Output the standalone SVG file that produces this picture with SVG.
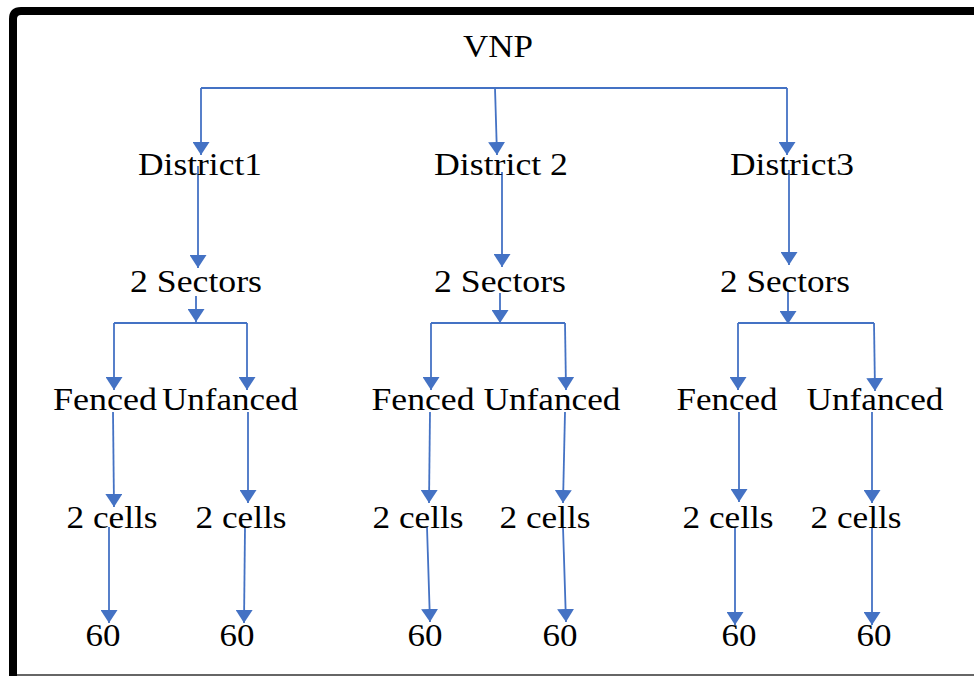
<svg xmlns="http://www.w3.org/2000/svg" width="974" height="676" viewBox="0 0 974 676">
<style>
text{font-family:"Liberation Serif","Times New Roman",serif;font-size:31px;fill:#000;text-anchor:middle}
.c{stroke:#4472C4;stroke-width:1.8;fill:none}
.a{marker-end:url(#ah)}
</style>
<defs>
<marker id="ah" viewBox="0 0 13 17" refX="13" refY="8.5" markerWidth="13" markerHeight="17" markerUnits="userSpaceOnUse" orient="auto">
<path d="M0,0 L13,8.5 L0,17 Z" fill="#4472C4"/>
</marker>
</defs>
<rect width="974" height="676" fill="#fff"/>
<g id="frame">
<path d="M13,676 V19 Q13,11 21,11 H980" fill="none" stroke="#000" stroke-width="8"/>
<line x1="17" y1="675" x2="974" y2="675" stroke="#666" stroke-width="2"/>
</g>
<g id="connectors">
<path class="c" d="M201,88 H787"/>
<path class="c a" d="M201,88 V155"/>
<path class="c a" d="M495,88 L497,155"/>
<path class="c a" d="M787,88 V155"/>
<path class="c a" d="M198,166 V268"/>
<path class="c a" d="M502,172 V267"/>
<path class="c a" d="M789,170 V265"/>
<path class="c a" d="M196,296 V322"/>
<path class="c a" d="M500,293 V323"/>
<path class="c a" d="M788,290 V324"/>
<path class="c" d="M114,323 H247"/>
<path class="c a" d="M114,323 V390"/>
<path class="c a" d="M247,323 V390"/>
<path class="c" d="M431,323 H565"/>
<path class="c a" d="M431,323 V390"/>
<path class="c a" d="M565,323 L566,390"/>
<path class="c" d="M738,323 H874"/>
<path class="c a" d="M738,323 V390"/>
<path class="c a" d="M874,323 L875,391"/>
<path class="c a" d="M113,412 L114,507"/>
<path class="c a" d="M248,412 V503"/>
<path class="c a" d="M430,412 L429,503"/>
<path class="c a" d="M565,412 L563,503"/>
<path class="c a" d="M739,412 V502"/>
<path class="c a" d="M872,412 V503"/>
<path class="c a" d="M109,527 V623"/>
<path class="c a" d="M245,527 L244,623"/>
<path class="c a" d="M427,527 L430,622"/>
<path class="c a" d="M563,527 L566,622"/>
<path class="c a" d="M735,527 V625"/>
<path class="c a" d="M872,527 V625"/>
</g>
<g id="vnp"><text x="498" y="57" textLength="70" lengthAdjust="spacingAndGlyphs">VNP</text></g>
<g id="district1"><text x="200" y="175" textLength="124" lengthAdjust="spacingAndGlyphs">District1</text></g>
<g id="district2"><text x="501" y="175" textLength="134" lengthAdjust="spacingAndGlyphs">District 2</text></g>
<g id="district3"><text x="792" y="175" textLength="124" lengthAdjust="spacingAndGlyphs">District3</text></g>
<g id="sectors1"><text x="196" y="292" textLength="132" lengthAdjust="spacingAndGlyphs">2 Sectors</text></g>
<g id="sectors2"><text x="500" y="292" textLength="132" lengthAdjust="spacingAndGlyphs">2 Sectors</text></g>
<g id="sectors3"><text x="785" y="292" textLength="130" lengthAdjust="spacingAndGlyphs">2 Sectors</text></g>
<g id="fenced1"><text x="105" y="410" textLength="104" lengthAdjust="spacingAndGlyphs">Fenced</text></g>
<g id="unfanced1"><text x="230" y="410" textLength="136" lengthAdjust="spacingAndGlyphs">Unfanced</text></g>
<g id="fenced2"><text x="423" y="410" textLength="103" lengthAdjust="spacingAndGlyphs">Fenced</text></g>
<g id="unfanced2"><text x="552" y="410" textLength="137" lengthAdjust="spacingAndGlyphs">Unfanced</text></g>
<g id="fenced3"><text x="727" y="410" textLength="101" lengthAdjust="spacingAndGlyphs">Fenced</text></g>
<g id="unfanced3"><text x="875" y="410" textLength="137" lengthAdjust="spacingAndGlyphs">Unfanced</text></g>
<g id="cells1"><text x="112" y="528" textLength="91" lengthAdjust="spacingAndGlyphs">2 cells</text></g>
<g id="cells2"><text x="241" y="528" textLength="91" lengthAdjust="spacingAndGlyphs">2 cells</text></g>
<g id="cells3"><text x="418" y="528" textLength="91" lengthAdjust="spacingAndGlyphs">2 cells</text></g>
<g id="cells4"><text x="545" y="528" textLength="91" lengthAdjust="spacingAndGlyphs">2 cells</text></g>
<g id="cells5"><text x="728" y="528" textLength="91" lengthAdjust="spacingAndGlyphs">2 cells</text></g>
<g id="cells6"><text x="856" y="528" textLength="91" lengthAdjust="spacingAndGlyphs">2 cells</text></g>
<g id="n60a"><text x="103" y="646" textLength="35" lengthAdjust="spacingAndGlyphs">60</text></g>
<g id="n60b"><text x="237" y="646" textLength="35" lengthAdjust="spacingAndGlyphs">60</text></g>
<g id="n60c"><text x="425" y="646" textLength="35" lengthAdjust="spacingAndGlyphs">60</text></g>
<g id="n60d"><text x="560" y="646" textLength="35" lengthAdjust="spacingAndGlyphs">60</text></g>
<g id="n60e"><text x="739" y="646" textLength="35" lengthAdjust="spacingAndGlyphs">60</text></g>
<g id="n60f"><text x="874" y="646" textLength="35" lengthAdjust="spacingAndGlyphs">60</text></g>
</svg>
